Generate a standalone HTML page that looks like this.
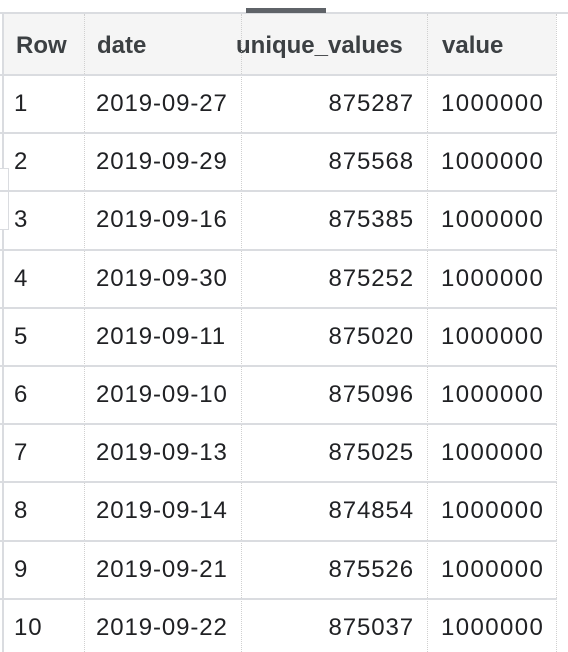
<!DOCTYPE html>
<html><head><meta charset="utf-8"><style>
body{margin:0;width:568px;height:652px;overflow:hidden;background:#fff;font-family:"Liberation Sans",Arial,sans-serif;position:relative}
.abs{position:absolute}
.t{position:absolute;font-size:24px;letter-spacing:0.9px;color:#202124;line-height:28px;white-space:nowrap}
.h{font-weight:bold;letter-spacing:0;color:#3c4043}
.hl{position:absolute;left:0;width:557px;height:2px;background:#dadce0}
.vl{position:absolute;width:0;border-left:1px dotted #d0d0d0}
</style></head><body>
<div class="abs" style="left:0;top:12px;width:568px;height:2px;background:#dadce0"></div>
<div class="abs" style="left:246px;top:8px;width:80px;height:5px;background:#5f6368"></div>
<div class="abs" style="left:2px;top:12px;width:2px;height:640px;background:#dadce0"></div>
<div class="abs" style="left:0;top:168px;width:8px;height:60px;border:1px solid #dadce0;border-left:none;background:#fff"></div>
<div class="abs" style="left:4px;top:14px;width:552px;height:61px;background:#f5f5f5"></div>
<div id="tbl"></div>
<script>
const rowNums=[1,2,3,4,5,6,7,8,9,10];
const dates=["2019-09-27","2019-09-29","2019-09-16","2019-09-30","2019-09-11","2019-09-10","2019-09-13","2019-09-14","2019-09-21","2019-09-22"];
const uniques=[875287,875568,875385,875252,875020,875096,875025,874854,875526,875037];
const values=[1000000,1000000,1000000,1000000,1000000,1000000,1000000,1000000,1000000,1000000];
const tbl=document.getElementById('tbl');
function add(cls,style,text,name,inter){const e=document.createElement('div');e.className=cls;e.style.cssText=style;if(text!==undefined)e.textContent=text;


tbl.appendChild(e);return e;}
add('t h','left:16px;top:32px','Row','header-row-num',true);
add('t h','left:97px;top:32px','date','header-date',true);
add('t h','left:236px;top:32px','unique_values','header-unique-values',true);
add('t h','left:442px;top:32px','value','header-value',true);
const rh=58.2, top0=75;
[84,241,427,556].forEach((x,i)=>{add('vl','left:'+x+'px;top:14px;height:638px',undefined,'column-divider-'+i,false);});
for(let i=0;i<rowNums.length;i++){
 const y=top0+i*rh;
 add('hl','top:'+(y-1)+'px',undefined,'row-line-'+(i+1),false);
 const ty=y+15;
 add('t','left:14px;top:'+ty+'px',String(rowNums[i]),'row-number',false);
 add('t','left:96px;top:'+ty+'px',dates[i],'date-cell',false);
 add('t','right:154px;top:'+ty+'px',String(uniques[i]),'unique-values-cell',false);
 add('t','left:441px;top:'+ty+'px;letter-spacing:1.4px',String(values[i]),'value-cell',false);
}
</script>
</body></html>
